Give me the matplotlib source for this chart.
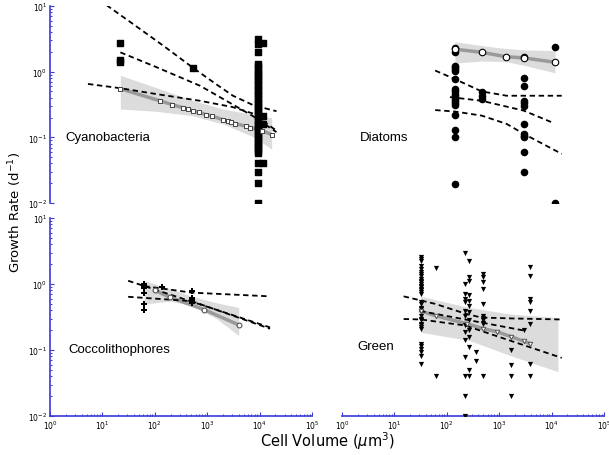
import numpy as np
import matplotlib
matplotlib.use('Agg')
import matplotlib.pyplot as plt

# --- Cyanobacteria (filled squares = raw data, open squares = fitted means)
cy_x1 = [22, 22, 22, 540]
cy_y1 = [2.7, 1.5, 1.4, 1.14]
cy_col_x = 9500
cy_col_y = [3.1, 2.6, 2.0, 1.3, 1.2, 1.1, 1.0, 0.92, 0.85, 0.78, 0.72, 0.66, 0.6,
            0.55, 0.5, 0.46, 0.42, 0.38, 0.35, 0.32, 0.29, 0.27, 0.25, 0.23, 0.21,
            0.19, 0.175, 0.16, 0.15, 0.14, 0.13, 0.12, 0.11, 0.1, 0.093, 0.086,
            0.08, 0.074, 0.068, 0.063, 0.058, 0.04, 0.03, 0.02, 0.01]
cy_col2_x = 11800
cy_col2_y = [2.7, 0.21, 0.16, 0.04]
cy_fit_x = [22, 125, 216, 340, 425, 543, 695, 948, 1220, 1977, 2460, 2880, 3390,
            5430, 6580, 11200, 17000]
cy_fit_y = [0.55, 0.36, 0.315, 0.283, 0.267, 0.249, 0.241, 0.222, 0.212, 0.186,
            0.178, 0.171, 0.162, 0.148, 0.141, 0.126, 0.11]
cy_band_x = [22, 100, 500, 2000, 8000, 17000]
cy_band_hi = [0.88, 0.58, 0.37, 0.27, 0.22, 0.2]
cy_band_lo = [0.27, 0.25, 0.215, 0.16, 0.1, 0.066]
cy_q1_x = [12, 40, 150, 540, 1500, 3100, 7500, 12000, 21000]
cy_q1_y = [10.3, 5.2, 2.44, 1.14, 0.64, 0.43, 0.31, 0.28, 0.25]
cy_q2_x = [22, 100, 730, 3000, 7500, 21000]
cy_q2_y = [1.97, 1.2, 0.61, 0.32, 0.21, 0.12]
cy_q3_x = [5.3, 22, 100, 730, 3000, 7500, 21000]
cy_q3_y = [0.65, 0.56, 0.46, 0.36, 0.29, 0.23, 0.126]

# --- Diatoms
di_x = ([143] * 19) + ([465] * 3) + ([2940] * 12) + [11600, 11600]
di_y = [2.27, 2.02, 1.23, 1.17, 1.10, 1.04, 0.77, 0.545, 0.50, 0.46, 0.42, 0.385,
        0.362, 0.334, 0.31, 0.219, 0.131, 0.10, 0.0195,
        0.485, 0.43, 0.385,
        1.66, 0.80, 0.60, 0.36, 0.334, 0.30, 0.16, 0.113, 0.106, 0.10, 0.059, 0.0296,
        2.35, 0.01]
di_fit_x = [143, 465, 1350, 2940, 11600]
di_fit_y = [2.2, 1.97, 1.69, 1.62, 1.39]
di_band_x = [143, 465, 1350, 2940, 11600]
di_band_hi = [2.85, 2.5, 2.25, 2.15, 2.09]
di_band_lo = [1.35, 1.45, 1.42, 1.25, 0.96]
di_q1_x = [60, 143, 465, 1390, 15600]
di_q1_y = [1.04, 0.77, 0.50, 0.43, 0.43]
di_q2_x = [115, 465, 2940, 10000]
di_q2_y = [0.41, 0.36, 0.255, 0.17]
di_q3_x = [60, 143, 465, 1390, 2940, 15600]
di_q3_y = [0.26, 0.247, 0.214, 0.16, 0.113, 0.056]

# --- Coccolithophores
co_x = [63, 63, 63, 63, 63, 63, 135, 505, 505, 505, 505, 505]
co_y = [1.0, 0.93, 0.86, 0.74, 0.50, 0.41, 0.9, 0.77, 0.61, 0.57, 0.54, 0.51]
co_fit_x = [100, 195, 870, 4000]
co_fit_y = [0.8, 0.63, 0.41, 0.24]
co_band_x = [63, 200, 505, 1500, 4000]
co_band_hi = [1.12, 0.85, 0.65, 0.52, 0.44]
co_band_lo = [0.5, 0.55, 0.47, 0.3, 0.165]
co_q1_x = [31, 15800]
co_q1_y = [1.12, 0.22]
co_q2_x = [63, 505, 15800]
co_q2_y = [0.93, 0.74, 0.65]
co_q3_x = [31, 505, 15800]
co_q3_y = [0.64, 0.55, 0.21]

# --- Green algae
gr_c1_y = [2.54, 2.39, 2.21, 1.85, 1.69, 1.50, 1.42, 1.34, 1.19, 1.12, 1.06, 1.0,
           0.944, 0.89, 0.84, 0.80, 0.75, 0.71, 0.53, 0.50, 0.44, 0.42, 0.39, 0.37,
           0.33, 0.30, 0.28, 0.25, 0.24, 0.22, 0.21, 0.123, 0.116, 0.104, 0.092,
           0.082, 0.061]
gr_c3_y = [2.94, 1.0, 0.70, 0.60, 0.53, 0.39, 0.33, 0.24, 0.19, 0.14, 0.079,
           0.041, 0.02, 0.01]
gr_c4_y = [2.25, 1.26, 1.12, 0.67, 0.56, 0.47, 0.37, 0.28, 0.20, 0.157, 0.11,
           0.05, 0.041]
gr_x = ([32] * len(gr_c1_y)) + [61, 61] + ([225] * len(gr_c3_y)) + \
       ([265] * len(gr_c4_y)) + [360, 360] + ([485] * 12) + ([1660] * 4) + \
       ([3880] * 8) + [3000]
gr_y = gr_c1_y + [1.73, 0.041] + gr_c3_y + gr_c4_y + [0.092, 0.069] + \
       [1.42, 1.26, 1.06, 0.84, 0.50, 0.33, 0.31, 0.30, 0.28, 0.26, 0.25, 0.041] + \
       [0.1, 0.06, 0.041, 0.02] + \
       [1.79, 1.34, 0.59, 0.53, 0.39, 0.25, 0.061, 0.041] + [0.2]
gr_fit_x = [32, 61, 240, 500, 900, 1660, 3000, 3880]
gr_fit_y = [0.39, 0.33, 0.25, 0.21, 0.19, 0.16, 0.135, 0.125]
gr_band_x = [32, 265, 1660, 13200]
gr_band_hi = [0.65, 0.44, 0.35, 0.31]
gr_band_lo = [0.185, 0.14, 0.082, 0.047]
gr_q1_x = [15, 60, 240, 465, 2000, 15600]
gr_q1_y = [0.65, 0.50, 0.35, 0.31, 0.30, 0.29]
gr_q2_x = [31, 225, 3100]
gr_q2_y = [0.39, 0.29, 0.196]
gr_q3_x = [15, 32, 225, 1040, 15600]
gr_q3_y = [0.295, 0.29, 0.235, 0.156, 0.076]

# ============================   Plot   ======================================
BLUE = '#3a3ad6'
BAND = '#dcdcdc'
FIT = '#9a9a9a'
LABEL_FONT = 'Liberation Sans'

plt.rc('font', family='DejaVu Sans', size=7)
fig = plt.figure(figsize=(6.09, 4.56), dpi=100)

W = 262 / 609
H = 198 / 456
ax_cy = fig.add_axes([50 / 609, 1 - 204 / 456, W, 197 / 456])
ax_di = fig.add_axes([342 / 609, 1 - 204 / 456, W, 197 / 456])
ax_co = fig.add_axes([50 / 609, 1 - 417 / 456, W, H])
ax_gr = fig.add_axes([342 / 609, 1 - 417 / 456, W, H])


def setup(ax, left, bottom):
    ax.set_xscale('log')
    ax.set_yscale('log')
    ax.set_xlim(1, 1e5)
    ax.set_ylim(1e-2, 1e1)
    for s in ['top', 'right']:
        ax.spines[s].set_visible(False)
    ax.spines['left'].set_visible(left)
    ax.spines['bottom'].set_visible(bottom)
    for s in ['left', 'bottom']:
        ax.spines[s].set_color(BLUE)
        ax.spines[s].set_linewidth(1.2)
    ax.tick_params(which='both', direction='in', color=BLUE, labelsize=5.5,
                   pad=2, left=left, labelleft=left, bottom=bottom,
                   labelbottom=bottom)
    ax.tick_params(which='major', length=3, width=0.8)
    ax.tick_params(which='minor', length=1.5, width=0.7)
    ax.set_xticks([1, 10, 100, 1e3, 1e4, 1e5])
    ax.set_yticks([1e-2, 1e-1, 1, 10])


def quantiles(ax, lines):
    for qx, qy in lines:
        ax.plot(qx, qy, color='black', lw=1.3, ls=(0, (3, 2)), zorder=4)


for ax, l, b in [(ax_cy, True, False), (ax_di, False, False),
                 (ax_co, True, True), (ax_gr, False, True)]:
    setup(ax, l, b)

# Cyanobacteria
ax_cy.fill_between(cy_band_x, cy_band_lo, cy_band_hi, color=BAND, lw=0, zorder=1)
ax_cy.scatter(cy_x1, cy_y1, marker='s', s=18, c='black', zorder=3)
ax_cy.scatter([cy_col_x] * len(cy_col_y), cy_col_y, marker='s', s=18, c='black', zorder=3)
ax_cy.scatter([cy_col2_x] * len(cy_col2_y), cy_col2_y, marker='s', s=18, c='black', zorder=3)
ax_cy.plot(cy_fit_x, cy_fit_y, color=FIT, lw=2.5, zorder=2)
ax_cy.scatter(cy_fit_x, cy_fit_y, marker='s', s=9, facecolors='white',
              edgecolors='#444444', linewidths=0.7, zorder=5)
quantiles(ax_cy, [(cy_q1_x, cy_q1_y), (cy_q2_x, cy_q2_y), (cy_q3_x, cy_q3_y)])
ax_cy.text(1.93, 0.1, 'Cyanobacteria', fontsize=9.5, family=LABEL_FONT,
           va='center', ha='left')

# Diatoms
ax_di.fill_between(di_band_x, di_band_lo, di_band_hi, color=BAND, lw=0, zorder=1)
ax_di.scatter(di_x, di_y, marker='o', s=20, c='black', zorder=3)
ax_di.plot(di_fit_x, di_fit_y, color=FIT, lw=2.5, zorder=2)
ax_di.scatter(di_fit_x, di_fit_y, marker='o', s=22, facecolors='white',
              edgecolors='black', linewidths=0.8, zorder=5)
quantiles(ax_di, [(di_q1_x, di_q1_y), (di_q2_x, di_q2_y), (di_q3_x, di_q3_y)])
ax_di.text(2.2, 0.1, 'Diatoms', fontsize=9.5, family=LABEL_FONT,
           va='center', ha='left')

# Coccolithophores
ax_co.fill_between(co_band_x, co_band_lo, co_band_hi, color=BAND, lw=0, zorder=1)
ax_co.scatter(co_x, co_y, marker='P', s=14, c='black', lw=0, zorder=3)
ax_co.plot(co_fit_x, co_fit_y, color=FIT, lw=2.5, zorder=2)
ax_co.scatter(co_fit_x, co_fit_y, marker='o', s=12, facecolors='white',
              edgecolors='#555555', linewidths=0.8, zorder=5)
quantiles(ax_co, [(co_q1_x, co_q1_y), (co_q2_x, co_q2_y), (co_q3_x, co_q3_y)])
ax_co.text(2.2, 0.105, 'Coccolithophores', fontsize=9.5, family=LABEL_FONT,
           va='center', ha='left')

# Green
ax_gr.fill_between(gr_band_x, gr_band_lo, gr_band_hi, color=BAND, lw=0, zorder=1)
ax_gr.scatter(gr_x, gr_y, marker='v', s=14, c='black', lw=0, zorder=3)
ax_gr.plot(gr_fit_x, gr_fit_y, color=FIT, lw=2.5, zorder=2)
ax_gr.scatter(gr_fit_x, gr_fit_y, marker='v', s=10, facecolors='white',
              edgecolors='#555555', linewidths=0.7, zorder=5)
quantiles(ax_gr, [(gr_q1_x, gr_q1_y), (gr_q2_x, gr_q2_y), (gr_q3_x, gr_q3_y)])
ax_gr.text(2.0, 0.115, 'Green', fontsize=9.5, family=LABEL_FONT,
           va='center', ha='left')

fig.text(0.025, 0.535, 'Growth Rate (d$^{-1}$)', rotation=90, fontsize=9.5,
         ha='center', va='center')
fig.text(0.537, 0.032, 'Cell Volume ($\\mu$m$^{3}$)', fontsize=10.5,
         ha='center', va='center')

fig.savefig('out.png', dpi=100)
